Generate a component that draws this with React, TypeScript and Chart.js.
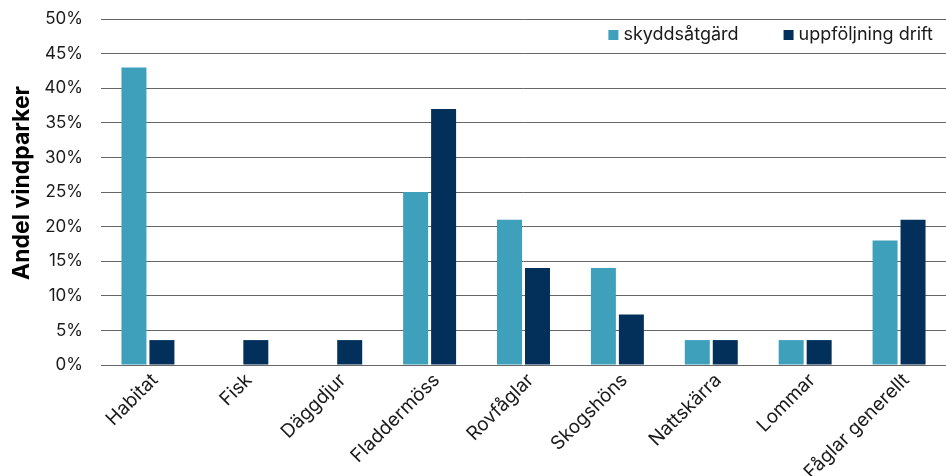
import React, { useEffect, useRef } from "react";
import { Chart, registerables } from "chart.js";

Chart.register(...registerables);

const categories = [
  "Habitat",
  "Fisk",
  "Däggdjur",
  "Fladdermöss",
  "Rovfåglar",
  "Skogshöns",
  "Nattskärra",
  "Lommar",
  "Fåglar generellt",
];
const skyddsatgard = [43, 0, 0, 25, 21, 14, 3.6, 3.6, 18];
const uppfoljningDrift = [3.6, 3.6, 3.6, 37, 14, 7.3, 3.6, 3.6, 21];
const seriesNames = ["skyddsåtgärd", "uppföljning drift"];
const seriesColors = ["#3ea0bb", "#02305a"];
const yTicks = [0, 5, 10, 15, 20, 25, 30, 35, 40, 45, 50];
const yTitle = "Andel vindparker";

const FONT = "Inter, 'Noto Sans', sans-serif";

const insideLegend = {
  id: "insideLegend",
  afterDraw(chart: any) {
    const { ctx, chartArea } = chart;
    ctx.save();
    ctx.font = `18px ${FONT}`;
    ctx.textBaseline = "middle";
    ctx.textAlign = "left";
    const cy = 35;
    let xEnd = chartArea.right - 13;
    const items = chart.data.datasets.map((d: any) => ({ label: d.label, color: d.backgroundColor }));
    for (let i = items.length - 1; i >= 0; i--) {
      const w = ctx.measureText(items[i].label).width;
      const tx = xEnd - w;
      const bx = tx - 15;
      ctx.fillStyle = "#ffffff";
      ctx.fillRect(bx - 2, cy - 12, w + 19, 24);
      ctx.fillStyle = items[i].color;
      ctx.fillRect(bx, cy - 5, 10, 10);
      ctx.fillStyle = "#1a1a1a";
      ctx.fillText(items[i].label, tx, cy);
      xEnd = bx - 45;
    }
    // y axis title
    ctx.translate(22, 183);
    ctx.rotate(-Math.PI / 2);
    ctx.font = `bold 23px ${FONT}`;
    ctx.textAlign = "center";
    ctx.fillStyle = "#000000";
    ctx.fillText(yTitle, 0, 0);
    ctx.restore();
  },
};

export default function App() {
  const ref = useRef<HTMLCanvasElement>(null);
  useEffect(() => {
    document.body.style.margin = "0";
    const chart = new Chart(ref.current!, {
      type: "bar",
      data: {
        labels: categories,
        datasets: [
          { label: seriesNames[0], data: skyddsatgard, backgroundColor: seriesColors[0] },
          { label: seriesNames[1], data: uppfoljningDrift, backgroundColor: seriesColors[1] },
        ],
      },
      options: {
        animation: false,
        responsive: false,
        maintainAspectRatio: false,
        layout: { padding: { top: 19, right: 0, left: 0, bottom: 0 } },
        datasets: { bar: { categoryPercentage: 0.596, barPercentage: 0.893 } } as any,
        plugins: { legend: { display: false }, tooltip: { enabled: false } },
        scales: {
          x: {
            grid: { display: false },
            border: { display: false },
            ticks: {
              color: "#1a1a1a",
              font: { family: FONT, size: 19 },
              minRotation: 45,
              maxRotation: 45,
              padding: -4,
              labelOffset: 7,
            },
            afterFit: (s: any) => {
              s.height = 111;
              s.paddingLeft = 0;
              s.paddingRight = 0;
            },
          },
          y: {
            min: 0,
            max: 50,
            afterBuildTicks: (s: any) => {
              s.ticks = yTicks.map((v) => ({ value: v }));
            },
            grid: { color: "#666666", drawTicks: false, lineWidth: 1 },
            border: { display: false },
            ticks: {
              color: "#1a1a1a",
              font: { family: FONT, size: 17 },
              padding: 18,
              callback: (v: any) => `${v}%`,
            },
            afterFit: (s: any) => {
              s.width = 101;
              s.paddingTop = 0;
              s.paddingBottom = 0;
            },
          },
        },
      },
      plugins: [insideLegend],
    });
    return () => chart.destroy();
  }, []);
  return <canvas ref={ref} width={946} height={476} style={{ display: "block" }} />;
}
